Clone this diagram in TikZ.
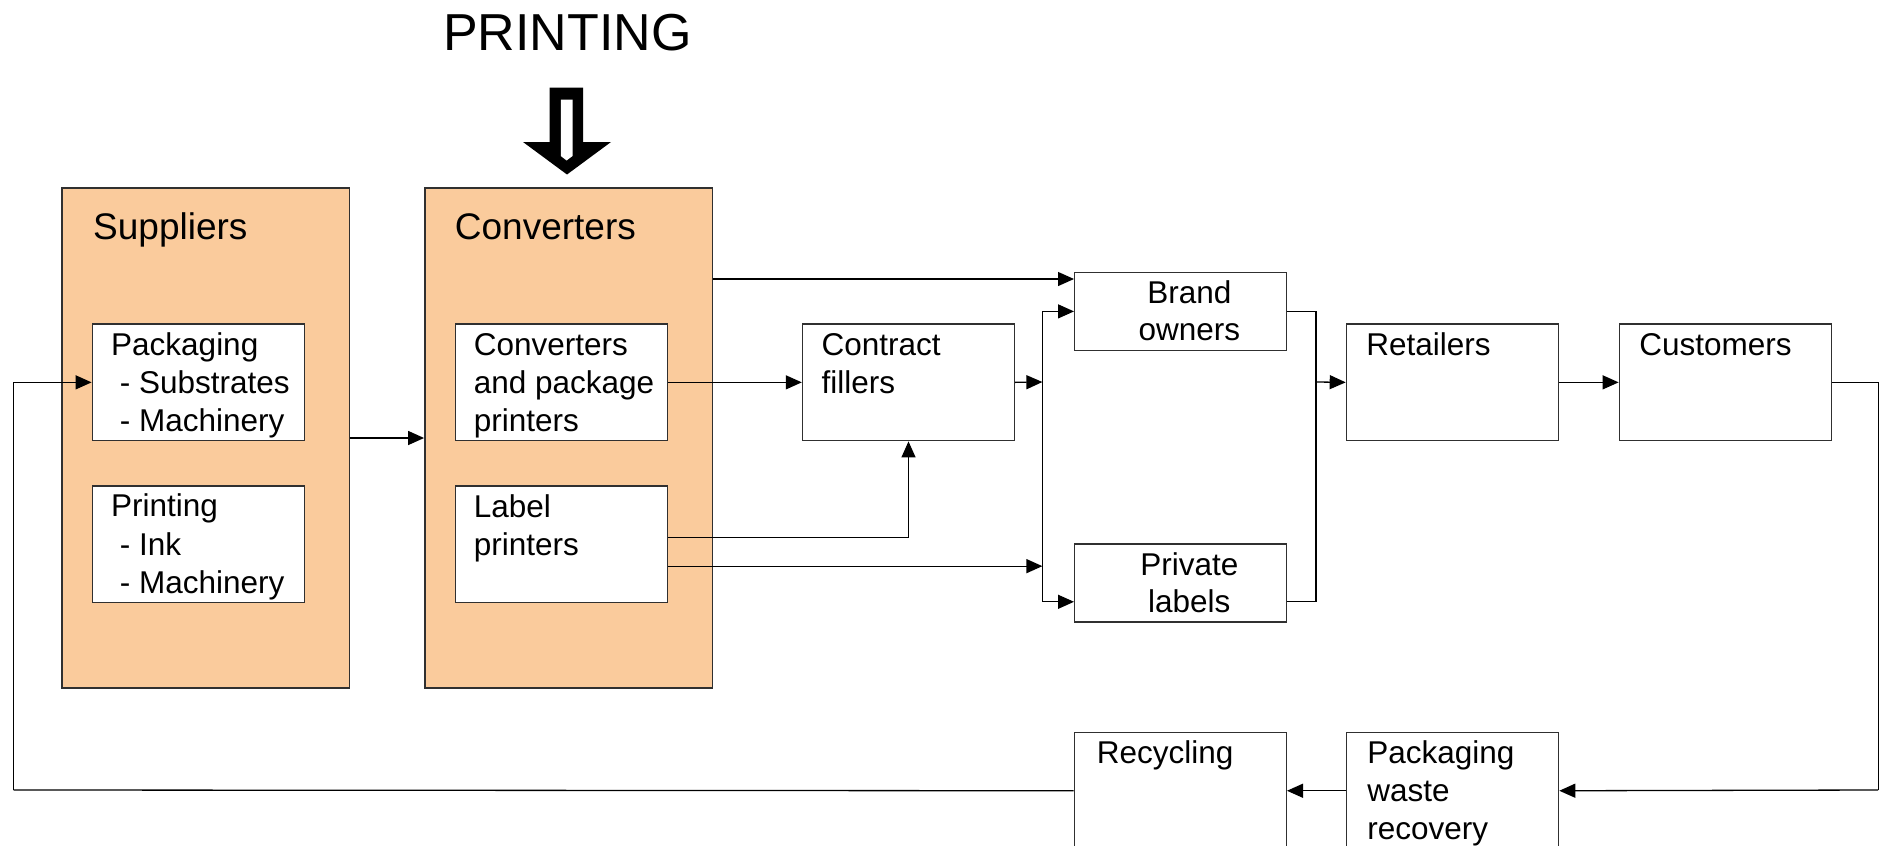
\documentclass[tikz,border=0pt]{standalone}
\usepackage{fontspec}
\setmainfont{Liberation Sans}
\usetikzlibrary{arrows.meta,calc}
\definecolor{peach}{HTML}{FACB9C}
\definecolor{edge}{HTML}{303030}
\tikzset{
  group/.style={draw=edge, line width=1.4pt, fill=peach, inner sep=0pt, anchor=north west},
  stage/.style={draw=edge, line width=1.4pt, fill=white, inner sep=0pt, anchor=north west,
                minimum width=212pt, minimum height=116.7pt},
  title/.style={inner sep=0pt, anchor=base west, font=\fontsize{37}{44}\selectfont},
  % multi-line texts: the base anchor sits on the last line
  txt/.style={inner sep=0pt, anchor=base west, align=left, font=\fontsize{31.5}{38.3}\selectfont},
  ctxt/.style={inner sep=0pt, anchor=base, align=center, font=\fontsize{31.5}{37.4}\selectfont},
  arr/.style={draw=black, line width=1.3pt, -{Triangle[length=16pt,width=14pt]}},
  wire/.style={draw=black, line width=1.3pt},
}
\begin{document}
\begin{tikzpicture}[x=1pt,y=-1pt]
\useasboundingbox (0,0) rectangle (1883,846);
\clip (0,0) rectangle (1883,846);

% heading and the block arrow under it
\node[inner sep=0pt, anchor=base, font=\fontsize{52}{60}\selectfont] (ttl) at (567.4,50.7) {PRINTING};
\fill[black] (549.5,87.5) -- (583,87.5) -- (583,142) -- (611,142) -- (567,174.5)
  -- (523,142) -- (549.5,142) -- cycle;
\fill[white] (560.8,99.5) -- (572.5,99.5) -- (572.5,156) -- (566.6,160.5) -- (560.8,156) -- cycle;

% two large groups
\node[group, minimum width=287.4pt, minimum height=500pt] (sup) at (61.1,187.3) {};
\node[group, minimum width=287.4pt, minimum height=500pt] (conv) at (424.1,187.3) {};
\node[title] (supt) at (93,239.3) {Suppliers};
\node[title] (convt) at (454.7,239.3) {Converters};

% boxes inside the groups
\node[stage] (pk) at (91.6,323.3) {};
\node[stage] (pr) at (91.6,485.3) {};
\node[stage] (cp) at (454.7,323.3) {};
\node[stage] (lp) at (454.7,485.3) {};
\node[txt] (pkt) at (111,431.6) {Packaging\\\ - Substrates\\\ - Machinery};
\node[txt] (prt) at (111,593.5) {Printing\\\ - Ink\\\ - Machinery};
\node[txt] (cpt) at (473.6,431.6) {Converters\\and package\\printers};
\node[txt] (lpt) at (473.6,555.5) {Label\\printers};

% downstream chain
\node[stage] (cf) at (801.8,323.3) {};
\node[stage, minimum height=78pt] (bo) at (1074,271.7) {};
\node[stage, minimum height=78pt] (pl) at (1074,543.3) {};
\node[stage] (re) at (1345.7,323.3) {};
\node[stage] (cu) at (1618.6,323.3) {};
\node[stage] (rc) at (1073.6,731.7) {};
\node[stage] (pw) at (1345.9,731.7) {};
\node[txt] (cft) at (821.4,393.6) {Contract\\fillers};
\node[ctxt] (bot) at (1189.3,340.7) {Brand\\owners};
\node[ctxt] (plt) at (1189.3,612.7) {Private\\labels};
\node[txt] (ret) at (1366.2,355) {Retailers};
\node[txt] (cut) at (1639.1,355) {Customers};
\node[txt] (rct) at (1096.7,763.3) {Recycling};
\node[txt] (pwt) at (1367.1,839.9) {Packaging\\waste\\recovery};

% junction points of the connectors
\coordinate (busL) at (1042.4,382);
\coordinate (busR) at (1316,382);
\coordinate (loopR) at (1878.2,790);
\coordinate (loopL) at (13.6,790);

% connectors
\draw[arr] (sup.east) -- (conv.west);
\draw[arr] (cp.east) -- (cf.west);
\draw[arr] ([yshift=32.4pt]bo.west -| conv.east) -- ([yshift=32.4pt]bo.west);
\draw[arr] (cf.east) -- (busL);
\draw[arr] ([yshift=6.8pt]lp.east) -| (cf.south);
\draw[arr] ([yshift=-21.8pt]lp.east) -- ([yshift=-21.8pt]lp.east -| busL);
\draw[wire] (busL |- bo.west) -- ([yshift=-18.8pt]pl.west -| busL);
\draw[arr] (busL |- bo.west) -- (bo.west);
\draw[arr] ([yshift=-18.8pt]pl.west -| busL) -- ([yshift=-18.8pt]pl.west);
\draw[wire] (bo.east) -| (busR);
\draw[wire] ([yshift=-18.8pt]pl.east) -| (busR);
\draw[arr] (busR) -- (re.west);
\draw[arr] (re.east) -- (cu.west);
\draw[wire] (cu.east) -| (loopR);
\draw[arr] (loopR) -- (pw.east);
\draw[arr] (pw.west) -- (rc.east);
\draw[wire] (rc.west) -- (loopL);
\draw[arr] (loopL) |- (pk.west);
\end{tikzpicture}
\end{document}
